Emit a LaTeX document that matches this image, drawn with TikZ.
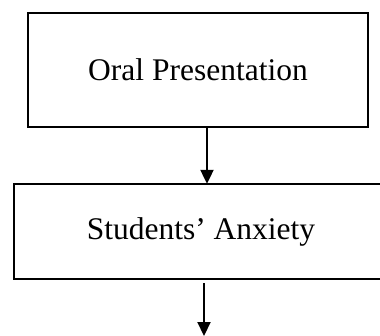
\documentclass[tikz,border=0pt]{standalone}
\usepackage{fontspec}
\setmainfont{Liberation Serif}
\usetikzlibrary{arrows.meta}
\begin{document}
\begin{tikzpicture}[x=1pt,y=1pt,
  box/.style={draw=black,line width=2.5pt,rectangle,inner sep=0pt,font=\fontsize{31.5}{36}\selectfont},
  label/.style={rectangle,inner sep=0pt,font=\fontsize{31.5}{36}\selectfont},
  conn/.style={line width=2.2pt,-{Triangle[width=13pt,length=14pt]}}]
\useasboundingbox (0,0) rectangle (380,335);
\clip (0,0) rectangle (380,335);
\fill[white] (0,0) rectangle (380,335);
\node[box,minimum width=340pt,minimum height=114pt] (b1) at (198,265) {Oral Presentation};
\node[label,minimum width=100pt,minimum height=95pt] (b2) at (201,103.5) {Students’ Anxiety};
\draw[line width=2.5pt] (14,56) rectangle (450,151);
\coordinate (c1) at (207,0);
\coordinate (e2) at (204,-1);
\coordinate (s2) at (204,52);
\draw[conn] (b1.south -| c1) -- (b2.north -| c1);
\draw[conn] (s2) -- (e2);
\end{tikzpicture}
\end{document}
